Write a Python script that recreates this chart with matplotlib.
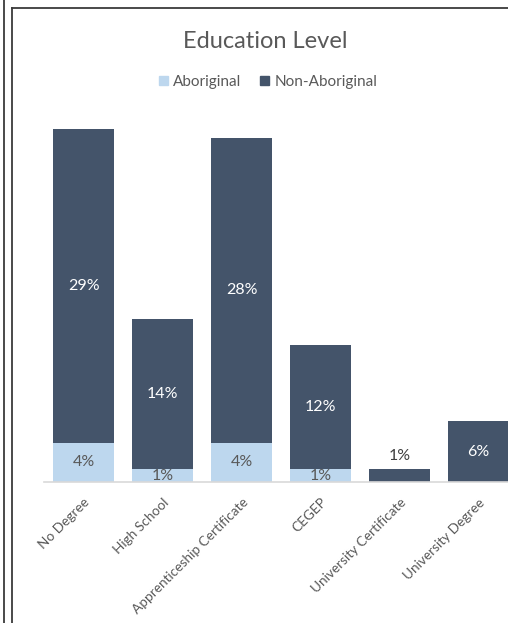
import matplotlib.pyplot as plt
from matplotlib.patches import Patch
from matplotlib.lines import Line2D
import numpy as np

# Datos (porcentaje)
categorias = ["No Degree", "High School", "Apprenticeship Certificate", "CEGEP",
              "University Certificate", "University Degree"]
aborigen = [3.7, 1.2, 3.7, 1.2, 0, 0]
no_aborigen = [29.2, 14.0, 28.3, 11.6, 1.2, 5.7]

azul_claro = "#BDD7EE"
azul_osc = "#44546A"
gris = "#595959"

plt.rcParams['font.family'] = ['Lato', 'DejaVu Sans']

fig = plt.figure(figsize=(5.08, 6.23), dpi=100)
W, H = 508, 623
base_px = 482.3
top_px = 110
ax = fig.add_axes([44 / W, (H - base_px) / H, 1 - 44 / W, (base_px - top_px) / H])

x = np.arange(len(categorias))
ax.bar(x, aborigen, width=0.77, color=azul_claro)
ax.bar(x, no_aborigen, width=0.77, bottom=aborigen, color=azul_osc)

escala = 10.75  # px por punto
ax.set_ylim(0, (base_px - top_px) / escala)
ax.set_xlim(-0.5, (W - 83.7) / 79)

# etiquetas de datos
for i in range(len(categorias)):
    if aborigen[i] > 0:
        ax.text(x[i], aborigen[i] / 2, f"{round(aborigen[i])}%", ha="center", va="center",
                fontsize=11.5, color=gris)
    if no_aborigen[i] > 2:
        ax.text(x[i], aborigen[i] + no_aborigen[i] / 2, f"{round(no_aborigen[i])}%",
                ha="center", va="center", fontsize=11.5, color="white")
    else:
        ax.text(x[i], aborigen[i] + no_aborigen[i] + 0.6, f"{round(no_aborigen[i])}%",
                ha="center", va="bottom", fontsize=11.5, color="#404040")

for s in ["top", "right", "left"]:
    ax.spines[s].set_visible(False)
ax.spines["bottom"].set_color("#D9D9D9")
ax.spines["bottom"].set_linewidth(1.2)
ax.set_yticks([])
ax.set_xticks(x)
ax.set_xticklabels(categorias, rotation=45, ha="right", va="top", rotation_mode="anchor",
                   fontsize=9.8, color=gris)
ax.tick_params(axis="x", length=0, pad=10)

fig.text(265 / W, 1 - 41 / H, "Education Level", ha="center", va="center", fontsize=17, color=gris)
handles = [Patch(color=azul_claro, label="Aboriginal"), Patch(color=azul_osc, label="Non-Aboriginal")]
fig.legend(handles=handles, loc="center", bbox_to_anchor=(268 / W, 1 - 82 / H), ncol=2,
           frameon=False, fontsize=11, handlelength=0.6, handleheight=0.6, handletextpad=0.35,
           columnspacing=1.2, labelcolor=gris)

# marco de la imagen
fig.add_artist(Line2D([3.5 / W, 3.5 / W], [0, 1], color="#3a3a3a", lw=1.3))
fig.add_artist(Line2D([11.5 / W, 11.5 / W], [0, 1 - 8 / H], color="#3a3a3a", lw=1.3))
fig.add_artist(Line2D([11.5 / W, 1], [1 - 8 / H, 1 - 8 / H], color="#3a3a3a", lw=1.3))

fig.savefig("out.png", dpi=100)
